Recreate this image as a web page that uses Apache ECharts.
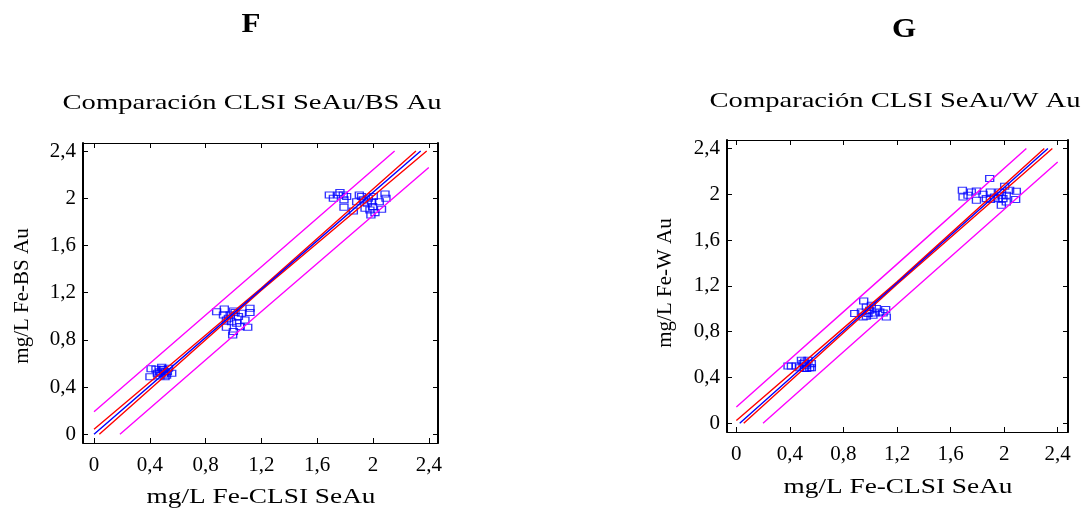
<!DOCTYPE html>
<html>
<head>
<meta charset="utf-8">
<script src="https://cdn.jsdelivr.net/npm/echarts@6/dist/echarts.min.js"></script>
<style>
  html, body { margin: 0; padding: 0; background: #fff; }
  #chart { width: 1089px; height: 510px; }
</style>
</head>
<body>
<div id="chart"></div>
<script>
// Tick positions and their printed labels (decimal comma)
const tickValues = [0, 0.4, 0.8, 1.2, 1.6, 2, 2.4];
const tickLabels = ['0', '0,4', '0,8', '1,2', '1,6', '2', '2,4'];

// Panel F: CLSI SeAu vs BS Au
const scatterF = [
  [0.409, 0.556], [0.401, 0.488], [0.444, 0.551], [0.485, 0.568], [0.497, 0.545],
  [0.526, 0.530], [0.557, 0.517], [0.473, 0.494], [0.509, 0.488], [0.454, 0.517],
  [0.534, 0.559], [0.480, 0.520], [0.500, 0.510], [0.520, 0.500], [0.470, 0.530],
  [0.490, 0.550], [0.510, 0.530],
  [0.879, 1.039], [0.934, 1.062], [0.999, 1.045], [1.118, 1.068], [1.118, 1.031],
  [0.949, 0.907], [0.999, 0.870], [0.994, 0.841], [1.102, 0.907], [1.082, 0.969],
  [1.035, 0.997], [0.963, 0.983], [0.928, 1.011], [1.023, 0.941], [1.057, 1.025],
  [0.986, 0.954], [1.047, 0.912], [0.976, 1.011], [1.011, 1.031], [0.949, 0.969],
  [1.687, 2.028], [1.716, 2.000], [1.763, 2.048], [1.787, 2.028], [1.792, 1.986],
  [1.792, 1.924], [1.811, 2.014], [1.751, 2.028], [1.902, 2.028], [1.883, 1.971],
  [1.859, 1.892], [1.943, 1.915], [1.967, 2.000], [1.991, 1.971], [2.002, 2.014],
  [1.985, 1.858], [2.014, 1.878], [1.997, 1.929], [2.061, 1.907], [2.045, 1.971],
  [2.086, 2.036], [2.093, 2.000], [1.930, 1.986], [1.959, 1.958], [1.918, 2.014],
  [1.978, 1.901]
];
const fitF = [[0, 0], [1.2, 1.23], [2.342, 2.4]];
const confUpperF = [[0, 0.042], [1.2, 1.24], [2.308, 2.4]];
const confLowerF = [[0.038, 0], [1.2, 1.22], [2.385, 2.4]];
const predUpperF = [[0, 0.19], [1.2, 1.42], [2.155, 2.4]];
const predLowerF = [[0.186, 0], [1.2, 1.04], [2.4, 2.26]];

// Panel G: CLSI SeAu vs W Au
const scatterG = [
  [0.386, 0.500], [0.411, 0.500], [0.448, 0.500], [0.486, 0.550], [0.510, 0.535],
  [0.535, 0.550], [0.560, 0.521], [0.547, 0.486], [0.510, 0.478], [0.473, 0.486],
  [0.523, 0.506], [0.498, 0.521], [0.525, 0.478], [0.560, 0.486],
  [0.951, 1.068], [0.884, 0.958], [0.934, 0.972], [0.971, 1.016], [1.008, 1.031],
  [1.046, 1.002], [1.071, 0.972], [1.115, 0.993], [1.120, 0.928], [1.020, 0.943],
  [0.971, 0.934], [0.946, 0.928], [0.996, 0.987], [1.033, 0.964], [1.096, 0.964],
  [0.983, 0.958],
  [1.892, 2.137], [1.688, 2.035], [1.693, 1.977], [1.730, 1.991], [1.755, 2.020],
  [1.793, 2.029], [1.793, 1.948], [1.842, 2.000], [1.897, 2.020], [1.897, 1.954],
  [1.929, 1.977], [1.966, 2.020], [2.004, 2.070], [1.979, 1.904], [2.016, 1.933],
  [2.041, 2.035], [2.091, 2.026], [2.086, 1.954], [1.991, 1.962], [1.954, 1.962],
  [2.016, 1.991], [1.979, 1.991], [1.867, 1.962]
];
const fitG = [[0.025, 0], [1.2, 1.225], [2.327, 2.4]];
const confUpperG = [[0, 0.025], [1.2, 1.235], [2.30, 2.4]];
const confLowerG = [[0.055, 0], [1.2, 1.215], [2.36, 2.4]];
const predUpperG = [[0, 0.142], [1.2, 1.39], [2.166, 2.4]];
const predLowerG = [[0.199, 0], [1.2, 1.04], [2.4, 2.282]];

const SERIF = 'Liberation Serif';
const fmt = v => tickLabels[tickValues.indexOf(+v.toFixed(2))] ?? String(v).replace('.', ',');

function valueAxis(gridIndex, min, max, position, showLabels, lineWidth) {
  return {
    type: 'value', gridIndex, min, max, position,
    axisLine: { show: true, onZero: false, lineStyle: { color: '#000', width: lineWidth } },
    axisTick: { show: true, inside: true, length: 5, customValues: tickValues,
                lineStyle: { color: '#000', width: 1 } },
    axisLabel: { show: showLabels, customValues: tickValues, formatter: fmt,
                 fontFamily: SERIF, fontSize: 21, color: '#000',
                 margin: (position === 'bottom') ? 12 : 7 },
    splitLine: { show: false }
  };
}

function panelSeries(idx, pts, fit, cu, cl, pu, pl) {
  const line = (data, color) => ({
    type: 'line', xAxisIndex: idx * 2, yAxisIndex: idx * 2, data,
    showSymbol: false, symbol: 'none', silent: true, z: 3,
    lineStyle: { color, width: 1.4 }
  });
  return [
    { type: 'scatter', xAxisIndex: idx * 2, yAxisIndex: idx * 2, data: pts,
      symbol: 'rect', symbolSize: [8, 6], z: 2,
      itemStyle: { color: 'rgba(0,0,0,0)', borderColor: '#0000ff', borderWidth: 1.2 } },
    line(pu, '#ff00ff'), line(pl, '#ff00ff'),
    line(cu, '#ff0000'), line(cl, '#ff0000'),
    line(fit, '#0000ff')
  ];
}

function text(str, x, y, size, opts = {}) {
  return {
    type: 'text', x, y,
    rotation: opts.rotation || 0,
    scaleX: opts.scaleX || 1,
    style: {
      text: str, fill: '#000',
      fontFamily: SERIF, fontSize: size, fontWeight: opts.bold ? 'bold' : 'normal',
      textAlign: 'center', textVerticalAlign: 'middle',
      align: 'center', verticalAlign: 'middle'
    }
  };
}

const chart = echarts.init(document.getElementById('chart'), null, { renderer: 'canvas' });
chart.setOption({
  animation: false,
  backgroundColor: '#fff',
  grid: [
    { left: 83, top: 143, width: 355, height: 300 },
    { left: 727, top: 140, width: 341, height: 292 }
  ],
  xAxis: [
    valueAxis(0, -0.079, 2.466, 'bottom', true, 1),
    valueAxis(0, -0.079, 2.466, 'top', false, 1),
    valueAxis(1, -0.070, 2.477, 'bottom', true, 1),
    valueAxis(1, -0.070, 2.477, 'top', false, 1)
  ],
  yAxis: [
    valueAxis(0, -0.074, 2.468, 'left', true, 2),
    valueAxis(0, -0.074, 2.468, 'right', false, 2),
    valueAxis(1, -0.076, 2.474, 'left', true, 2),
    valueAxis(1, -0.076, 2.474, 'right', false, 2)
  ],
  series: [
    ...panelSeries(0, scatterF, fitF, confUpperF, confLowerF, predUpperF, predLowerF),
    ...panelSeries(1, scatterG, fitG, confUpperG, confLowerG, predUpperG, predLowerG)
  ],
  graphic: [
    text('F', 251, 25, 27, { bold: true, scaleX: 1.15 }),
    text('G', 904, 30, 27, { bold: true, scaleX: 1.15 }),
    text('Comparación CLSI SeAu/BS Au', 252, 103, 22, { scaleX: 1.3 }),
    text('Comparación CLSI SeAu/W Au', 895, 101, 22, { scaleX: 1.3 }),
    text('mg/L Fe-CLSI SeAu', 261, 497, 21, { scaleX: 1.3 }),
    text('mg/L Fe-CLSI SeAu', 898, 487, 21, { scaleX: 1.3 }),
    text('mg/L Fe-BS Au', 22, 296, 21, { rotation: Math.PI / 2 }),
    text('mg/L Fe-W Au', 665, 283, 21, { rotation: Math.PI / 2 })
  ]
});
</script>
</body>
</html>
